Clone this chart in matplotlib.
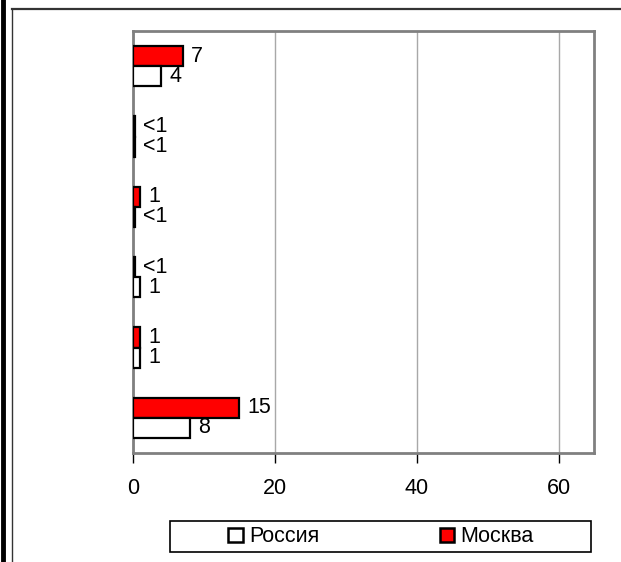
import matplotlib
matplotlib.use("Agg")
import matplotlib.pyplot as plt
from matplotlib.patches import Patch, Rectangle
from matplotlib.lines import Line2D
import numpy as np

plt.rcParams['font.family'] = ['Liberation Sans', 'DejaVu Sans']

# Data (top to bottom); "<1" values drawn as small bars
categories = ["1", "2", "3", "4", "5", "6"]
moscow_values = [7, 0.3, 1, 0.3, 1, 15]
moscow_labels = ["7", "<1", "1", "<1", "1", "15"]
russia_values = [4, 0.3, 0.3, 1, 1, 8]
russia_labels = ["4", "<1", "<1", "1", "1", "8"]
series_names = ["Россия", "Москва"]
xticks = [0, 20, 40, 60]

FS = 15.5
W, H = 621, 562
fig = plt.figure(figsize=(W / 100, H / 100), dpi=100)
ax = fig.add_axes([133 / W, 1 - 453 / H, (594 - 133) / W, (453 - 31) / H])

y = np.arange(len(categories))
h = 0.285
ax.barh(y - h / 2, moscow_values, height=h, color='#ff0000', edgecolor='black', linewidth=1.6, zorder=3)
ax.barh(y + h / 2, russia_values, height=h, color='white', edgecolor='black', linewidth=1.6, zorder=3)

for yi, v, lab in zip(y, moscow_values, moscow_labels):
    ax.annotate(lab, (v, yi - h / 2), xytext=(8, 0), textcoords='offset pixels',
                ha='left', va='center', fontsize=FS)
for yi, v, lab in zip(y, russia_values, russia_labels):
    ax.annotate(lab, (v, yi + h / 2), xytext=(8, 0), textcoords='offset pixels',
                ha='left', va='center', fontsize=FS)

ax.set_xlim(0, 65)
ax.set_ylim(len(categories) - 0.5, -0.5)
ax.set_xticks(xticks)
ax.set_xticklabels([str(t) for t in xticks], fontsize=FS)
ax.set_yticks([])
ax.tick_params(axis='x', direction='out', length=7, width=1, color='black', pad=11)
ax.grid(axis='x', color='#a8a8a8', linewidth=1, zorder=0)
ax.set_axisbelow(True)
for s in ax.spines.values():
    s.set_color('#808080')
    s.set_linewidth(2)

# Legend
handles = [Patch(facecolor='white', edgecolor='black', linewidth=1.8),
           Patch(facecolor='#ff0000', edgecolor='black', linewidth=1.8)]
fig.patches.append(Rectangle((170 / W, 1 - 552 / H), (591 - 170) / W, (552 - 521) / H,
                             transform=fig.transFigure, facecolor='white',
                             edgecolor='black', linewidth=1.2))
leg = fig.legend(handles, series_names, loc='center', ncol=2,
                 bbox_to_anchor=(381 / W, 1 - 537 / H), frameon=False,
                 fontsize=FS, handlelength=0.68, handleheight=0.65,
                 handletextpad=0.28, columnspacing=5.6, borderpad=0)

# Outer frame
fig.add_artist(Line2D([3 / W, 3 / W], [0, 1], transform=fig.transFigure, color='black', linewidth=3.5))
fig.add_artist(Line2D([11.5 / W, 1], [1 - 8.5 / H, 1 - 8.5 / H], transform=fig.transFigure, color='#333333', linewidth=1.6))
fig.add_artist(Line2D([11.5 / W, 11.5 / W], [0, 1 - 8.5 / H], transform=fig.transFigure, color='#333333', linewidth=1.0))

fig.savefig("out.png", dpi=100)
